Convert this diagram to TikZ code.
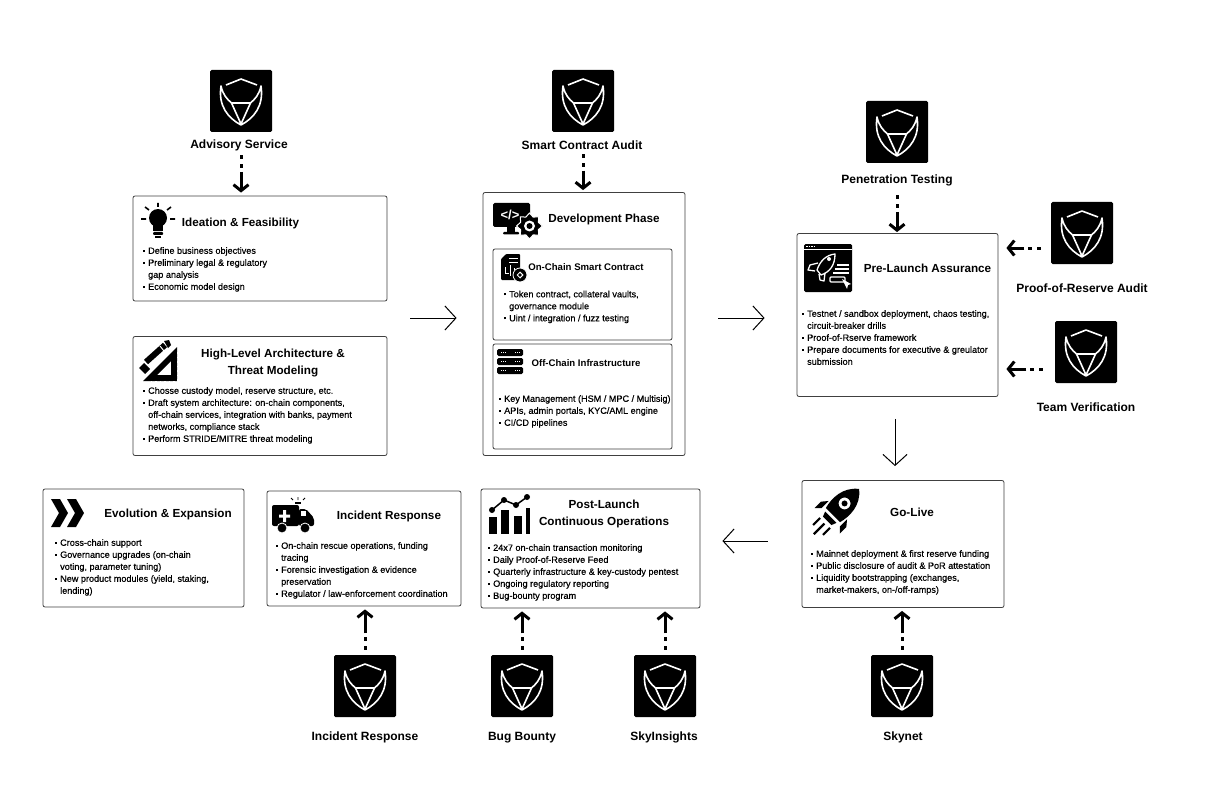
\documentclass[tikz,border=0pt]{standalone}
\usepackage{fontspec}
\setmainfont{Liberation Sans}
\newfontfamily\bodyfont[FakeBold=0.5]{Liberation Sans}
\usetikzlibrary{arrows.meta,shapes.geometric}
\newcommand{\itm}[1]{\makebox[5pt][l]{\rule[2pt]{1.8pt}{1.8pt}}#1}
\newcommand{\lcont}[1]{\hspace*{5pt}#1}
\tikzset{
  stagebox/.style={draw=black!75,line width=0.8pt,rounded corners=2pt,fill=white,inner sep=0pt},
  logobox/.style={fill=black,rounded corners=1.5pt,minimum width=62pt,minimum height=62pt,inner sep=0pt},
  logolabel/.style={font=\bfseries\fontsize{12}{14}\selectfont,inner sep=0pt},
  stagetitle/.style={font=\bfseries\fontsize{11.7}{17}\selectfont,align=center,inner sep=0pt},
  subtitle/.style={font=\bfseries\fontsize{9.6}{12}\selectfont,inner sep=0pt},
  stagelist/.style={font=\bodyfont\fontsize{9.1}{12}\selectfont,align=left,anchor=north west,inner sep=0pt},
  svcarrow/.style={line width=3pt,dash pattern=on 3.5pt off 5.5pt on 3.5pt off 4pt on 40pt off 1pt,-{Straight Barb[length=6pt,width=15pt]}},
  flowarrow/.style={line width=1pt,-{Straight Barb[length=11pt,width=24pt]}},
  shieldmark/.pic={
    \draw[white,line width=1.6pt,line join=round] (-15,-16) -- (0,-22) -- (16,-16);
    \draw[white,line width=1.6pt,line join=round] (-20,-15) .. controls (-23,5) and (-13,17) .. (0,24)
      .. controls (13,17) and (23,5) .. (20,-15) .. controls (18,-6) and (14,-2) .. (9.5,2)
      -- (0,23) -- (-9.5,2) .. controls (-14,-2) and (-18,-6) .. cycle;
    \draw[white,line width=1.6pt] (-9.5,2) -- (9.5,2);
  }
}
\begin{document}
\begin{tikzpicture}[x=1pt,y=-1pt]
  \useasboundingbox (0,0) rectangle (1222,802);

  \node[stagebox,minimum width=254pt,minimum height=105pt] (ideation) at (260,248.5) {};
  \node[stagebox,minimum width=254pt,minimum height=119pt] (highlevel) at (260,396) {};
  \node[stagebox,minimum width=202pt,minimum height=263pt] (devphase) at (584,324) {};
  \node[stagebox,minimum width=179pt,minimum height=91pt] (onchain) at (582.5,294.5) {};
  \node[stagebox,minimum width=179pt,minimum height=105pt] (offchain) at (582.5,396.5) {};
  \node[stagebox,minimum width=201pt,minimum height=163pt] (prelaunch) at (897.5,315) {};
  \node[stagebox,minimum width=202pt,minimum height=127pt] (golive) at (903,544) {};
  \node[stagebox,minimum width=219pt,minimum height=119pt] (postlaunch) at (590.5,548.5) {};
  \node[stagebox,minimum width=194pt,minimum height=115pt] (incident) at (364,548.5) {};
  \node[stagebox,minimum width=201pt,minimum height=118pt] (evolution) at (143.5,548) {};

  \node[stagetitle] (ideationT) at (240.5,223.5) {Ideation \& Feasibility};
  \node[stagetitle] (highlevelT) at (273,362.5) {High-Level Architecture \&\\Threat Modeling};
  \node[stagetitle] (devphaseT) at (604,219.5) {Development Phase};
  \node[subtitle] (onchainT) at (586,267) {On-Chain Smart Contract};
  \node[subtitle] (offchainT) at (586,363) {Off-Chain Infrastructure};
  \node[stagetitle] (prelaunchT) at (927.5,268.5) {Pre-Launch Assurance};
  \node[stagetitle] (goliveT) at (912,512) {Go-Live};
  \node[stagetitle] (postlaunchT) at (604,514) {Post-Launch\\Continuous Operations};
  \node[stagetitle] (incidentT) at (389,516.5) {Incident Response};
  \node[stagetitle] (evolutionT) at (168,514) {Evolution \& Expansion};

  \node[stagelist] (ideationL) at (143,247) {\itm{Define business objectives}\\\itm{Preliminary legal \& regulatory}\\\lcont{gap analysis}\\\itm{Economic model design}};
  \node[stagelist] (highlevelL) at (143,387) {\itm{Chosse custody model, reserve structure, etc.}\\\itm{Draft system architecture: on-chain components,}\\\lcont{off-chain services, integration with banks, payment}\\\lcont{networks, compliance stack}\\\itm{Perform STRIDE/MITRE threat modeling}};
  \node[stagelist] (onchainL) at (504,290.5) {\itm{Token contract, collateral vaults,}\\\lcont{governance module}\\\itm{Uint / integration / fuzz testing}};
  \node[stagelist] (offchainL) at (499,395) {\itm{Key Management (HSM / MPC / Multisig)}\\\itm{APIs, admin portals, KYC/AML engine}\\\itm{CI/CD pipelines}};
  \node[stagelist] (prelaunchL) at (802,310) {\itm{Testnet / sandbox deployment, chaos testing,}\\\lcont{circuit-breaker drills}\\\itm{Proof-of-Rserve framework}\\\itm{Prepare documents for executive \& greulator}\\\lcont{submission}};
  \node[stagelist] (goliveL) at (811,550) {\itm{Mainnet deployment \& first reserve funding}\\\itm{Public disclosure of audit \& PoR attestation}\\\itm{Liquidity bootstrapping (exchanges,}\\\lcont{market-makers, on-/off-ramps)}};
  \node[stagelist] (postlaunchL) at (488,544) {\itm{24x7 on-chain transaction monitoring}\\\itm{Daily Proof-of-Reserve Feed}\\\itm{Quarterly infrastructure \& key-custody pentest}\\\itm{Ongoing regulatory reporting}\\\itm{Bug-bounty program}};
  \node[stagelist] (incidentL) at (276,542) {\itm{On-chain rescue operations, funding}\\\lcont{tracing}\\\itm{Forensic investigation \& evidence}\\\lcont{preservation}\\\itm{Regulator / law-enforcement coordination}};
  \node[stagelist] (evolutionL) at (55,539) {\itm{Cross-chain support}\\\itm{Governance upgrades (on-chain}\\\lcont{voting, parameter tuning)}\\\itm{New product modules (yield, staking,}\\\lcont{lending)}};

  \node[logobox] (advisory) at (241,101) {};
  \node[logobox] (audit) at (583,101) {};
  \node[logobox] (pentest) at (897,132) {};
  \node[logobox] (reserve) at (1082,233) {};
  \node[logobox] (team) at (1086,352) {};
  \node[logobox] (response) at (365,686) {};
  \node[logobox] (bounty) at (522,686) {};
  \node[logobox] (insights) at (665,686) {};
  \node[logobox] (skynet) at (902,686) {};
  \pic at (advisory) {shieldmark};
  \pic at (audit) {shieldmark};
  \pic at (pentest) {shieldmark};
  \pic at (reserve) {shieldmark};
  \pic at (team) {shieldmark};
  \pic at (response) {shieldmark};
  \pic at (bounty) {shieldmark};
  \pic at (insights) {shieldmark};
  \pic at (skynet) {shieldmark};

  \node[logolabel] (advisoryT) at (239,145.5) {Advisory Service};
  \node[logolabel] (auditT) at (582,145.5) {Smart Contract Audit};
  \node[logolabel] (pentestT) at (897,180.5) {Penetration Testing};
  \node[logolabel] (reserveT) at (1082,288.5) {Proof-of-Reserve Audit};
  \node[logolabel] (teamT) at (1086,407.5) {Team Verification};
  \node[logolabel] (responseT) at (365,737.5) {Incident Response};
  \node[logolabel] (bountyT) at (522,737.5) {Bug Bounty};
  \node[logolabel] (insightsT) at (664,737.5) {SkyInsights};
  \node[logolabel] (skynetT) at (903,737.5) {Skynet};

  \draw[svcarrow,shorten >=3pt,shorten <=4pt] (advisoryT.south -| advisory) -- (advisory |- ideation.north);
  \draw[svcarrow,shorten >=2pt,shorten <=4pt] (auditT.south -| audit) -- (audit |- devphase.north);
  \draw[svcarrow,shorten >=1pt,shorten <=9pt] (pentestT.south) -- (prelaunch.north -| pentestT);
  \draw[svcarrow,shorten >=8pt,shorten <=10pt] (reserve.west |- 0,248) -- (prelaunch.east |- 0,248);
  \draw[svcarrow,shorten >=8pt,shorten <=12pt] (team.west |- 0,369) -- (prelaunch.east |- 0,369);
  \draw[svcarrow,shorten >=3pt,shorten <=5pt] (response.north) -- (incident.south -| response);
  \draw[svcarrow,shorten >=3pt,shorten <=5pt] (bounty.north) -- (postlaunch.south -| bounty);
  \draw[svcarrow,shorten >=3pt,shorten <=5pt] (insights.north) -- (postlaunch.south -| insights);
  \draw[svcarrow,shorten >=3pt,shorten <=5pt] (skynet.north) -- (golive.south -| skynet);

  \draw[flowarrow,shorten <=23pt,shorten >=26pt] (ideation.east |- 0,318) -- (devphase.west |- 0,318);
  \draw[flowarrow,shorten <=33pt,shorten >=32pt] (devphase.east |- 0,318) -- (prelaunch.west |- 0,318);
  \draw[flowarrow,shorten <=22pt,shorten >=14pt] (prelaunch.south -| 895,0) -- (golive.north -| 895,0);
  \draw[flowarrow,shorten <=34pt,shorten >=22pt] (golive.west |- 0,541) -- (postlaunch.east |- 0,541);

  % bulb
  \fill (158,218) circle (9);
  \fill (153,224) rectangle (163,231);
  \fill[rounded corners=1pt] (153,232) rectangle (163,235);
  \fill (155,236) rectangle (161,238);
  \draw[line width=1.6pt] (158,203) -- (158,207) (145,207) -- (149,210) (171,207) -- (167,210) (141,219) -- (146,219) (170,219) -- (175,219);
  % set square
  \fill[even odd rule] (177,347) -- (177,381) -- (143,381) -- cycle (171,361) -- (171,375) -- (157,375) -- cycle;
  \draw[white,line width=0.7pt,dash pattern=on 1.5pt off 3pt] (177,352) -- (177,381) -- (148,381);
  \draw[line width=6pt] (146,362) -- (165,345);
  \fill (164,341) -- (169,340) -- (171,345) -- (168,348) -- cycle;
  \draw[white,line width=1pt] (160,346) -- (164,351);
  \fill (139,368) -- (145,374) -- (150,369) -- (144,363) -- cycle;
  % monitor
  \fill[rounded corners=1.5pt] (493,203) rectangle (530,227);
  \fill (507,227) rectangle (515,232);
  \fill[rounded corners=1pt] (503,232) rectangle (519,234.5);
  \node[font=\bfseries\fontsize{13}{13}\selectfont,text=white,inner sep=0pt] (devcode) at (510,215) {</>};
  \node[star,star points=8,star point ratio=1.35,fill=black,draw=white,line width=1pt,inner sep=0pt,minimum size=26pt] (devgear) at (529.5,226) {};
  \fill[white] (devgear) circle (5.5);
  \fill (devgear) circle (3);
  % contract
  \fill[rounded corners=1pt] (501,259) -- (506,254) -- (520,254) -- (520,280) -- (501,280) -- cycle;
  \draw[white,line width=0.9pt] (509,258) -- (518,258) (509,262) -- (518,262) (505,267) -- (505,273) -- (509,273) (510,265) -- (510,276) (514,268) -- (514,270);
  \fill[draw=white,line width=0.8pt] (520,275) circle (7);
  \node[diamond,draw=white,line width=1pt,inner sep=0pt,minimum size=6pt] (chainmark) at (520,275) {};
  % servers
  \foreach \rowy in {349,358,367} {
    \fill[rounded corners=1.5pt] (497,\rowy) rectangle (523,\rowy+7);
    \draw[white,line width=1.2pt,dash pattern=on 1pt off 1pt] (501,\rowy+3.5) -- (507,\rowy+3.5) (515,\rowy+3.5) -- (520,\rowy+3.5);
  }
  % browser rocket
  \fill[rounded corners=1.5pt] (804,244) rectangle (852,292);
  \draw[white,line width=1pt] (804,249.5) -- (852,249.5);
  \draw[white,line width=1.2pt,dash pattern=on 1.5pt off 1pt] (806,246.5) -- (815,246.5);
  \draw[white,line width=1.3pt,line join=round] (835,254) .. controls (826,255) and (820,261) .. (817,270) -- (821,275) .. controls (830,272) and (835,265) .. (835,254) -- cycle;
  \draw[white,line width=1.3pt,line join=round] (818,263) -- (810,265) -- (808,270) -- (815,271) (825,273) -- (824,281) -- (820,280) -- (819,274);
  \fill[white] (829,259) circle (2);
  \draw[white,line width=1.1pt] (837,265) -- (849,265) (835,269) -- (849,269) (833,273) -- (849,273);
  \draw[white,line width=1.1pt,rounded corners=1pt] (830,277) rectangle (845,282);
  \fill[white] (842,279) -- (851,284) -- (848,285) -- (847,289) -- cycle;
  % go-live rocket
  \begin{scope}[shift={(835,513)},rotate=-45]
    \fill[even odd rule] (0,-34) .. controls (13,-24) and (13,-8) .. (10,3) -- (-10,3) .. controls (-13,-8) and (-13,-24) .. (0,-34) -- cycle (0,-13.5) circle (6);
    \fill (0,-13.5) circle (3);
    \fill (-8,6) -- (8,6) -- (6,11) -- (-6,11) -- cycle;
    \fill (-13,-4) -- (-18,2) -- (-18,11) -- (-13,6) -- cycle;
    \fill (13,-4) -- (18,2) -- (18,11) -- (13,6) -- cycle;
    \draw[line width=2.2pt] (-7,14) -- (-7,24) (0,15) -- (0,30) (7,14) -- (7,24);
  \end{scope}
  % chart
  \fill (489,517) rectangle (497,534);
  \fill (501,510) rectangle (509,534);
  \fill (514,516) rectangle (522,534);
  \fill (526,508) rectangle (530,534);
  \draw[line width=1.5pt] (492,510) -- (504,500) -- (516,505) -- (527,497);
  \fill (492,510) circle (3) (504,500) circle (3) (516,505) circle (3) (527,497) circle (3);
  % ambulance
  \fill[rounded corners=2pt] (272,505) rectangle (299,526);
  \fill[rounded corners=2pt] (299,509) -- (306,509) -- (314,518) -- (314,526) -- (299,526) -- cycle;
  \fill[white] (301,511) rectangle (306,516);
  \fill[white] (283,510) rectangle (286,522) (279,514.5) rectangle (290,517.5);
  \fill[draw=white,line width=0.8pt] (282,528) circle (5) (305,528) circle (5);
  \draw[line width=0.8pt] (298,500) -- (298,497) (293,500) -- (291,498) (303,500) -- (305,498);
  \draw[line width=1.2pt] (295,503) -- (301,503);
  % chevrons
  \fill (51,499) -- (60,499) -- (68,513) -- (60,527) -- (51,527) -- (59,513) -- cycle;
  \fill (67,499) -- (76,499) -- (84,513) -- (76,527) -- (67,527) -- (75,513) -- cycle;
\end{tikzpicture}
\end{document}
